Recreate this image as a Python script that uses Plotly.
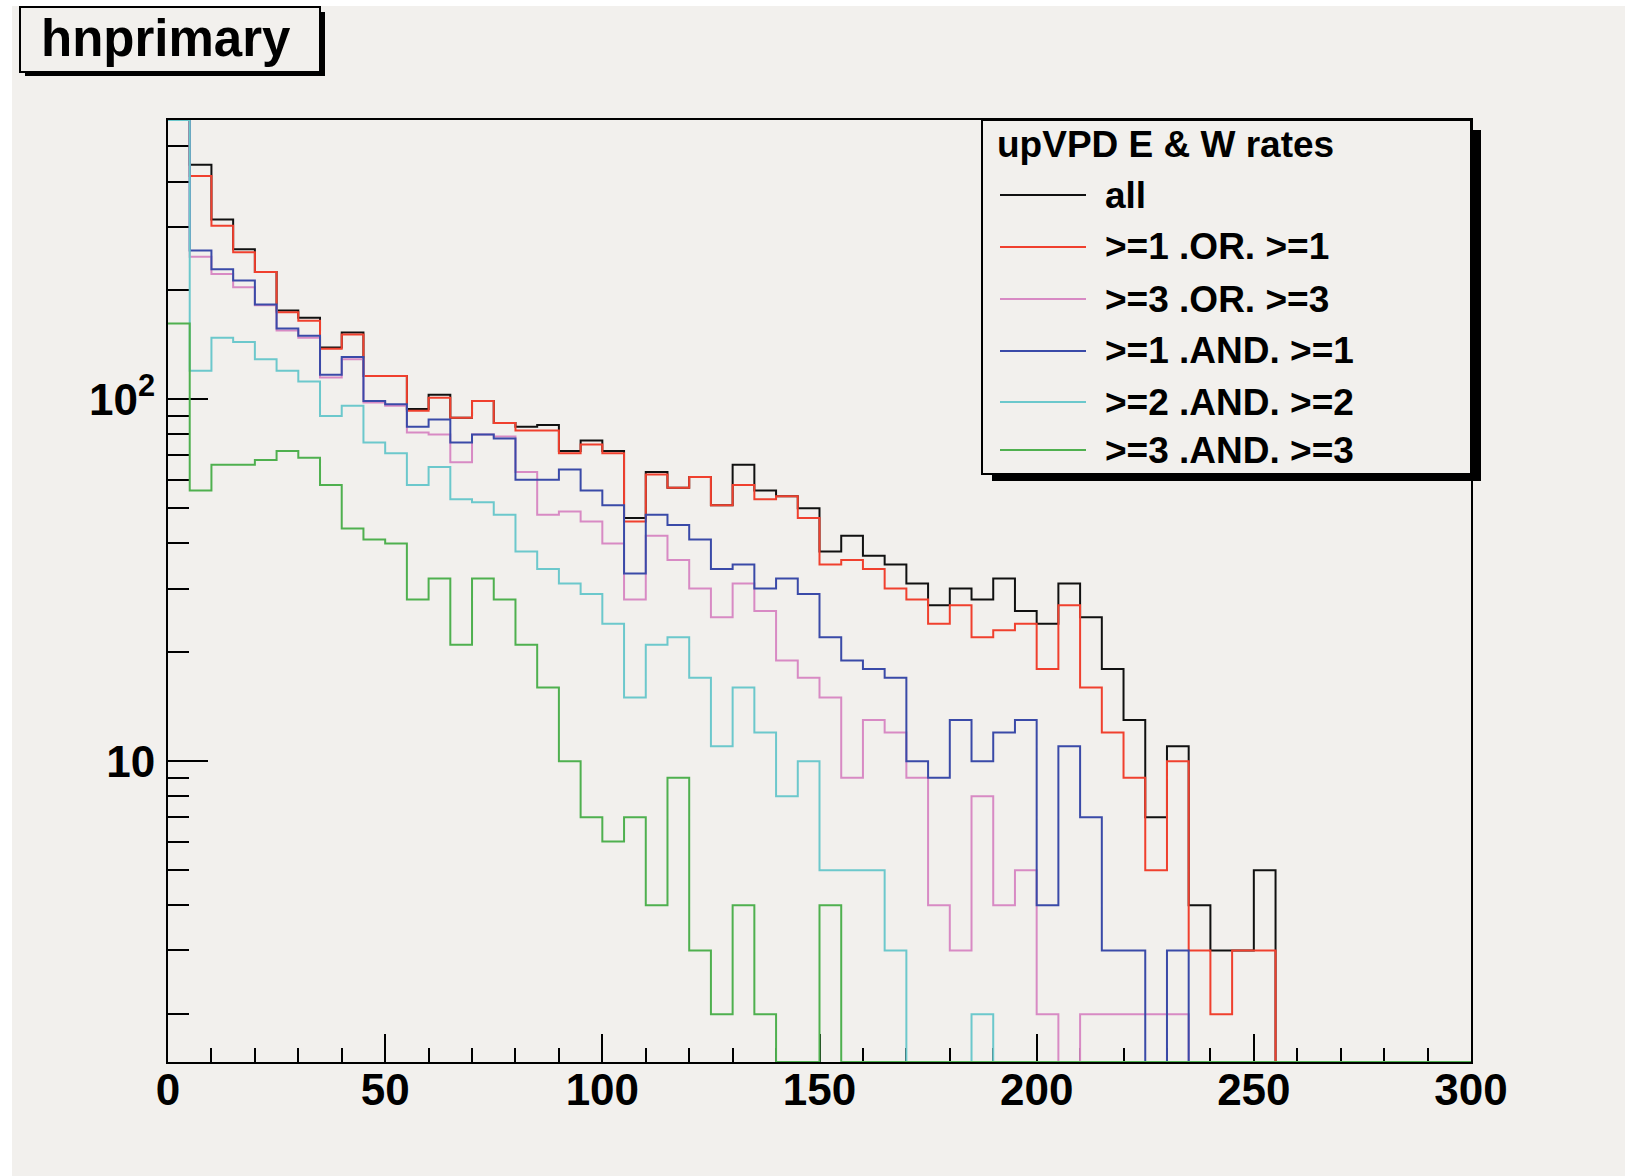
import numpy as np
import plotly.graph_objects as go

# ---------------- data (counts per 5-unit bin, 0..300) ----------------
bin_edges = list(range(0, 305, 5))

series_names = ["all", ">=1 .OR. >=1", ">=3 .OR. >=3",
                ">=1 .AND. >=1", ">=2 .AND. >=2", ">=3 .AND. >=3"]

counts_all = [700, 445, 314, 260, 225, 176, 168, 139, 153, 116,
              116, 94, 103, 89, 99, 86, 84, 85, 72, 77,
              72, 47, 63, 57, 61, 51, 66, 56, 54, 50,
              38, 42, 37, 35, 31, 27, 30, 28, 32, 26,
              24, 31, 25, 18, 13, 7, 11, 4, 3, 3,
              5, 0, 0, 0, 0, 0, 0, 0, 0, 0]

counts_or1 = [680, 414, 302, 255, 225, 174, 165, 138, 151, 116,
              116, 93, 101, 89, 99, 86, 82, 82, 71, 75,
              71, 46, 62, 57, 61, 51, 58, 53, 54, 47,
              35, 36, 34, 30, 28, 24, 27, 22, 23, 24,
              18, 27, 16, 12, 9, 5, 10, 3, 2, 3,
              3, 0, 0, 0, 0, 0, 0, 0, 0, 0]

counts_or3 = [620, 248, 222, 204, 182, 155, 148, 115, 129, 98,
              96, 81, 80, 67, 80, 79, 63, 48, 49, 46,
              40, 28, 42, 36, 30, 25, 31, 26, 19, 17,
              15, 9, 13, 12, 9, 4, 3, 8, 4, 5,
              2, 0, 2, 2, 2, 2, 2, 0, 0, 0,
              0, 0, 0, 0, 0, 0, 0, 0, 0, 0]

counts_and1 = [640, 258, 229, 213, 183, 157, 150, 117, 131, 99,
               97, 84, 88, 76, 80, 78, 60, 60, 64, 56,
               51, 33, 48, 45, 41, 34, 35, 30, 32, 29,
               22, 19, 18, 17, 10, 9, 13, 10, 12, 13,
               4, 11, 7, 3, 3, 0, 3, 0, 0, 0,
               0, 0, 0, 0, 0, 0, 0, 0, 0, 0]

counts_and2 = [600, 120, 148, 144, 129, 120, 112, 90, 96, 76,
               71, 58, 65, 53, 52, 48, 38, 34, 31, 29,
               24, 15, 21, 22, 17, 11, 16, 12, 8, 10,
               5, 5, 5, 3, 0, 0, 0, 2, 0, 0,
               0, 0, 0, 0, 0, 0, 0, 0, 0, 0,
               0, 0, 0, 0, 0, 0, 0, 0, 0, 0]

counts_and3 = [162, 56, 66, 66, 68, 72, 69, 58, 44, 41,
               40, 28, 32, 21, 32, 28, 21, 16, 10, 7,
               6, 7, 4, 9, 3, 2, 4, 2, 0, 0,
               4, 0, 0, 0, 0, 0, 0, 0, 0, 0,
               0, 0, 0, 0, 0, 0, 0, 0, 0, 0,
               0, 0, 0, 0, 0, 0, 0, 0, 0, 0]

series_counts = [counts_all, counts_or1, counts_or3, counts_and1, counts_and2, counts_and3]

x_tick_vals = [0, 50, 100, 150, 200, 250, 300]
y_tick_vals = [10, 100]
y_tick_text = ["10", "10<sup>2</sup>"]
title_text = "hnprimary"
legend_title = "upVPD E & W rates"

# ---------------- styles ----------------
colors = ["#111111", "#f0402e", "#d88ac4", "#3a4aa8", "#6cc8cc", "#4fb04f"]
BG = "#f2f0ed"
W, H = 1625, 1176
L, R, T, B = 168, 154, 120, 114

log_lo, log_hi = 0.169, 2.772
y_lo, y_hi = 10 ** log_lo, 10 ** log_hi

fig = go.Figure()
edges = np.array(bin_edges, dtype=float)
for name, cnt, col in zip(series_names, series_counts, colors):
    v = np.array(cnt, dtype=float)
    v = np.clip(v, y_lo, y_hi)  # ROOT draws out-of-range bins on the frame
    xs = np.append(edges[:-1], edges[-1])
    ys = np.append(v, v[-1])
    fig.add_trace(go.Scatter(x=xs, y=ys, mode="lines", name=name,
                             line=dict(color=col, width=2, shape="hv"),
                             showlegend=False, hoverinfo="skip"))

pw = W - L - R
ph = H - T - B


def px(X):
    return (X - L) / pw


def py(Y):
    return (H - B - Y) / ph


shapes = []
# white border strips of the scanned page
shapes.append(dict(type="rect", xref="paper", yref="paper", x0=px(0), x1=px(12), y0=py(H), y1=py(0),
                   fillcolor="white", line=dict(width=0)))
shapes.append(dict(type="rect", xref="paper", yref="paper", x0=px(0), x1=px(W), y0=py(6), y1=py(0),
                   fillcolor="white", line=dict(width=0)))
# title box with shadow
shapes.append(dict(type="rect", xref="paper", yref="paper", x0=px(25), x1=px(325), y0=py(76), y1=py(12),
                   fillcolor="black", line=dict(width=0)))
shapes.append(dict(type="rect", xref="paper", yref="paper", x0=px(20), x1=px(320), y0=py(72), y1=py(7),
                   fillcolor=BG, line=dict(color="black", width=2)))
# legend box with shadow
shapes.append(dict(type="rect", xref="paper", yref="paper", x0=px(992), x1=px(1481), y0=py(481), y1=py(130),
                   fillcolor="black", line=dict(width=0)))
shapes.append(dict(type="rect", xref="paper", yref="paper", x0=px(982), x1=px(1471), y0=py(474), y1=py(120),
                   fillcolor=BG, line=dict(color="black", width=2)))

annotations = []
annotations.append(dict(text="<b>%s</b>" % title_text, xref="paper", yref="paper", x=px(166), y=py(39),
                        xanchor="center", yanchor="middle", showarrow=False,
                        font=dict(family="Liberation Sans", size=51, color="black")))
annotations.append(dict(text="<b>%s</b>" % legend_title, xref="paper", yref="paper", x=px(995), y=py(144),
                        xanchor="left", yanchor="middle", showarrow=False,
                        font=dict(family="Liberation Sans", size=37, color="black")))
rows = [195, 247, 299, 351, 402, 450]
for name, col, ry in zip(series_names, colors, rows):
    shapes.append(dict(type="line", xref="paper", yref="paper", x0=px(1000), x1=px(1086), y0=py(ry), y1=py(ry),
                       line=dict(color=col, width=2)))
    annotations.append(dict(text="<b>%s</b>" % name, xref="paper", yref="paper", x=px(1103), y=py(ry),
                            xanchor="left", yanchor="middle", showarrow=False,
                            font=dict(family="Liberation Sans", size=37, color="black")))

minor_y = [2, 3, 4, 5, 6, 7, 8, 9, 20, 30, 40, 50, 60, 70, 80, 90, 200, 300, 400, 500]

fig.update_layout(
    width=W, height=H,
    margin=dict(l=L, r=R, t=T, b=B, pad=0),
    paper_bgcolor=BG, plot_bgcolor=BG,
    showlegend=False,
    shapes=shapes, annotations=annotations,
    xaxis=dict(range=[0, 300], tickvals=x_tick_vals, ticks="inside", ticklen=28, tickwidth=2,
               tickcolor="black", showline=True, linecolor="black", linewidth=2, mirror=True,
               showgrid=False, zeroline=False, layer="below traces",
               tickfont=dict(family="Liberation Sans", size=44, color="black", weight="bold"),
               ticklabelstandoff=-12,
               minor=dict(dtick=10, tick0=0, ticks="inside", ticklen=14, tickwidth=2, tickcolor="black",
                          showgrid=False)),
    yaxis=dict(type="log", range=[log_lo, log_hi], tickvals=y_tick_vals, ticktext=y_tick_text,
               ticks="inside", ticklen=40, tickwidth=2, tickcolor="black",
               showline=True, linecolor="black", linewidth=2, mirror=True,
               showgrid=False, zeroline=False, layer="below traces",
               tickfont=dict(family="Liberation Sans", size=44, color="black", weight="bold"),
               ticklabelstandoff=2,
               minor=dict(tickmode="array", tickvals=minor_y, ticks="inside", ticklen=21, tickwidth=2,
                          tickcolor="black", showgrid=False)),
)

fig.write_html("out.html")
